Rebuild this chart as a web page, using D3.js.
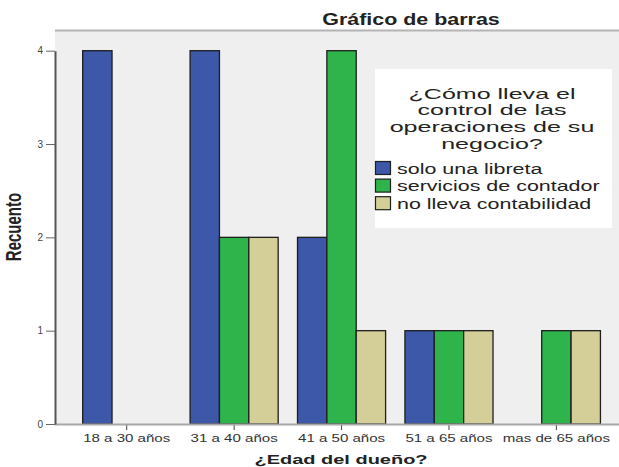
<!DOCTYPE html>
<html><head><meta charset="utf-8">
<script src="https://cdn.jsdelivr.net/npm/d3@7"></script>
<style>
html,body{margin:0;padding:0;background:#fff;}
svg{display:block;font-family:"Liberation Sans",Arial,sans-serif;}
</style></head>
<body>
<svg id="chart" width="619" height="467"></svg>
<script>
const categories = ["18 a 30 años","31 a 40 años","41 a 50 años","51 a 65 años","mas de 65 años"];
const seriesNames = ["solo una libreta","servicios de contador","no lleva contabilidad"];
const soloLibreta = [4,4,2,1,0];
const serviciosContador = [0,2,4,1,1];
const noLleva = [0,2,1,1,1];
const yTicks = [0,1,2,3,4];
const colors = ["#3d57a9","#2eb44a","#d4cf98"];
const legendTitle = ["¿Cómo lleva el","control de las","operaciones de su","negocio?"];

const seriesValues = [soloLibreta, serviciosContador, noLleva];
const svg = d3.select("#chart");
const SX = 1.4; // horizontal stretch of the reference's lettering

function stretchedText(parent, x, y, txt, size, opts = {}) {
  const g = parent.append("g").attr("transform", `translate(${x},${y}) scale(${opts.sx || SX},1)`);
  return g.append("text").attr("x",0).attr("y",0)
    .attr("text-anchor", opts.anchor || "middle")
    .attr("font-size", size).attr("font-weight", opts.weight || "normal")
    .attr("fill", opts.fill || "#222").text(txt);
}

const plot = {left:55, top:30, right:625, bottom:424};

const y = d3.scaleLinear().domain([0,4]).range([424, 50.7]);
const x = d3.scaleBand().domain(categories).range([73, 610.1]).paddingInner(0.18).paddingOuter(0.09);
const xs = d3.scaleBand().domain(seriesNames).range([0, x.bandwidth()]).padding(0);

// plot background
svg.append("rect").attr("x",plot.left).attr("y",plot.top)
  .attr("width",plot.right-plot.left).attr("height",plot.bottom-plot.top)
  .attr("fill","#efefef");
svg.append("line").attr("x1",plot.left).attr("x2",plot.right)
  .attr("y1",plot.top+0.5).attr("y2",plot.top+0.5).attr("stroke","#b4b4b4").attr("stroke-width",2);

// title
stretchedText(svg, 411, 24.5, "Gráfico de barras", 16, {weight:"bold", sx:1.34});

// bars
const groups = svg.append("g").selectAll("g").data(categories).join("g")
  .attr("transform", d => `translate(${x(d)},0)`);
groups.selectAll("rect").data((c,i) => seriesNames.map((s,j) => ({s, j, v: seriesValues[j][i]})).filter(d => d.v > 0))
  .join("rect")
  .attr("x", d => xs(d.s))
  .attr("y", d => y(d.v))
  .attr("width", xs.bandwidth())
  .attr("height", d => y(0) - y(d.v))
  .attr("fill", d => colors[d.j])
  .attr("stroke","#1e1e1e").attr("stroke-width",1.3);

// x axis
const xAxis = d3.axisBottom(x).tickSize(6).tickSizeOuter(0).tickFormat("");
const gx = svg.append("g").attr("transform","translate(0,424)").call(xAxis);
gx.select(".domain").remove();
svg.append("line").attr("x1",plot.left).attr("x2",plot.right).attr("y1",424.5).attr("y2",424.5)
  .attr("stroke","#a8a8a8").attr("stroke-width",2);
gx.selectAll(".tick line").attr("stroke","#444");
gx.selectAll(".tick").each(function(d){
  stretchedText(d3.select(this), 0, 18, d, 11, {sx:1.37, fill:"#333"});
});

// y axis
const yAxis = d3.axisLeft(y).tickValues(yTicks).tickFormat(d3.format("d")).tickSize(9).tickSizeOuter(0);
const gy = svg.append("g").attr("transform","translate(55,0)").call(yAxis);
gy.select(".domain").attr("stroke","#555").attr("stroke-width",2);
gy.selectAll(".tick line").attr("stroke","#666");
gy.selectAll(".tick text").attr("font-size",10).attr("fill","#444").attr("font-family","'Liberation Sans',Arial,sans-serif");

// axis titles
stretchedText(svg, 341, 464, "¿Edad del dueño?", 13.5, {weight:"bold", sx:1.48});
svg.append("g").attr("transform","translate(21,227) scale(1.42,1) rotate(-90)")
  .append("text").attr("text-anchor","middle")
  .attr("font-size",15).attr("font-weight","bold").attr("fill","#222").text("Recuento");

// legend
const lg = svg.append("g");
lg.append("rect").attr("x",375).attr("y",69).attr("width",237).attr("height",159).attr("fill","#fff");
legendTitle.forEach((t,i) => {
  stretchedText(lg, 492, 98.5 + i*16.9, t, 14.4, {sx:1.74, fill:"#222"});
});
const items = lg.selectAll("g.item").data(seriesNames).join("g").attr("class","item")
  .attr("transform",(d,i)=>`translate(375,${161.5+i*17.6})`);
items.append("rect").attr("x",0.5).attr("y",0).attr("width",15).attr("height",13)
  .attr("fill",(d,i)=>colors[i]).attr("stroke","#1e1e1e").attr("stroke-width",1.2);
items.each(function(d){
  stretchedText(d3.select(this), 22, 12, d, 15, {anchor:"start", sx:1.43});
});
</script>
</body></html>
